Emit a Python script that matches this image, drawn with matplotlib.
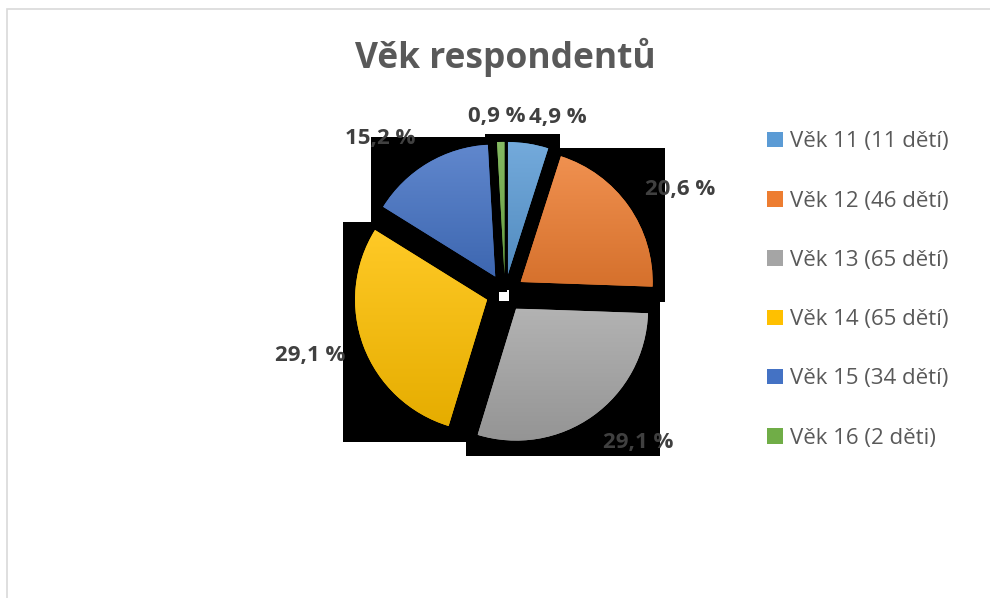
import numpy as np
import matplotlib
matplotlib.use("Agg")
import matplotlib.pyplot as plt
from matplotlib.colors import to_rgb
from matplotlib.patches import Rectangle

plt.rcParams["font.family"] = ["Open Sans", "DejaVu Sans"]

TITLE = "Věk respondentů"
LABELS = ["Věk 11 (11 dětí)", "Věk 12 (46 dětí)", "Věk 13 (65 dětí)",
          "Věk 14 (65 dětí)", "Věk 15 (34 dětí)", "Věk 16 (2 děti)"]
COUNTS = [11, 46, 65, 65, 34, 2]
COLORS = ["#5B9BD5", "#ED7D31", "#A5A5A5", "#FFC000", "#4472C4", "#70AD47"]

# label nudges (data units), Office moves outside-end labels around a bit
LABEL_NUDGE = [(0.17, -0.17), (0.09, -0.09), (0.13, 0.10),
               (-0.06, 0.06), (-0.17, -0.13), (-0.02, -0.18)]

W, H = 990, 598
fig = plt.figure(figsize=(W / 100, H / 100), dpi=100)
fig.patch.set_facecolor("white")

# chart area border (only top/left visible in the crop)
fig.patches.append(Rectangle((7 / W, -0.1), 1.2, (H - 9) / H + 0.1,
                             transform=fig.transFigure, fill=False,
                             edgecolor="#d9d9d9", linewidth=1.2))

cx, cy, half = 505, 293, 200
ax = fig.add_axes([(cx - half) / W, (H - cy - half) / H, 2 * half / W, 2 * half / H])
lim = half / 132.0

total = sum(COUNTS)
wedges, texts = ax.pie(COUNTS, colors=COLORS, startangle=90, counterclock=False,
                       explode=[0.145] * len(COUNTS), radius=1.0,
                       labels=[f"{100 * c / total:.1f} %".replace(".", ",") for c in COUNTS],
                       labeldistance=1.37,
                       wedgeprops=dict(linewidth=0),
                       textprops=dict(fontsize=16, fontweight="bold", color="#404040"))

for t, (dx, dy) in zip(texts, LABEL_NUDGE):
    x, y = t.get_position()
    t.set_position((x + dx, y + dy))
    t.set_ha("center")
    t.set_va("center")

# black "shadow" boxes behind every slice + vertical gradient fill
for w, col in zip(wedges, COLORS):
    bb = w.get_path().get_extents()
    ax.add_patch(Rectangle((bb.x0 - 0.09, bb.y0 - 0.12), bb.width + 0.18,
                           bb.height + 0.18, facecolor="black", edgecolor="none",
                           zorder=0.5))
    base = np.array(to_rgb(col))
    top = base + (1 - base) * 0.15
    bottom = base * 0.9
    grad = np.linspace(0, 1, 128)[:, None, None]
    img = top * (1 - grad) + bottom * grad
    im = ax.imshow(img, extent=(bb.x0, bb.x1, bb.y0, bb.y1), origin="upper",
                   aspect="auto", zorder=w.get_zorder() + 0.1)
    im.set_clip_path(w)

ax.set_xlim(-lim, lim)
ax.set_ylim(-lim, lim)
ax.set_aspect("equal")
ax.axis("off")

fig.text(cx / W, 1 - 57 / H, TITLE, ha="center", va="center",
         fontsize=25.5, fontweight="bold", color="#595959")

leg = fig.legend(wedges, LABELS, loc="center left",
                 bbox_to_anchor=(747 / W, 1 - 290 / H), frameon=False,
                 fontsize=16, handlelength=0.7, handleheight=0.7,
                 handletextpad=0.35, labelspacing=1.72)
for t in leg.get_texts():
    t.set_color("#595959")

fig.savefig("out.png", dpi=100)
